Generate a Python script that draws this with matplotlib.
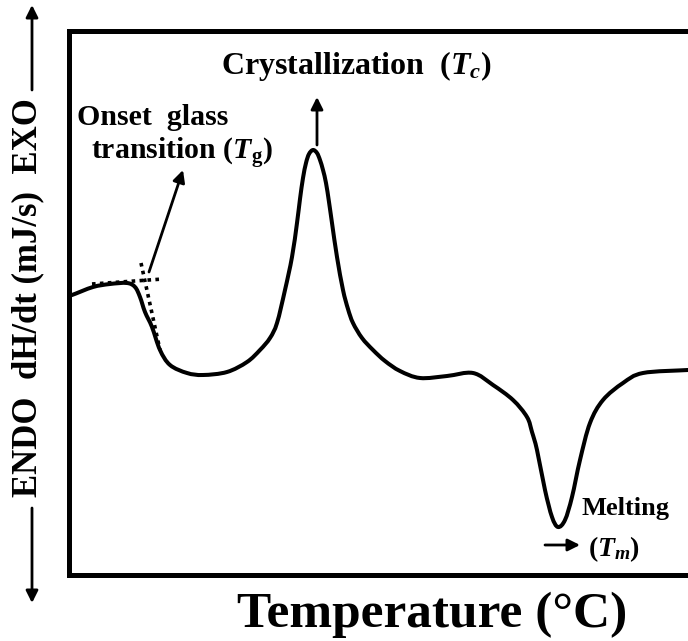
import matplotlib
matplotlib.use("Agg")
import numpy as np
import matplotlib.pyplot as plt
from matplotlib.patches import FancyArrowPatch, PathPatch
from matplotlib.path import Path

plt.rcParams["font.family"] = ["Liberation Serif", "DejaVu Serif"]
plt.rcParams["font.weight"] = "bold"
plt.rcParams["mathtext.fontset"] = "custom"
plt.rcParams["mathtext.rm"] = "Liberation Serif:bold"
plt.rcParams["mathtext.bf"] = "Liberation Serif:bold"
plt.rcParams["mathtext.it"] = "Liberation Serif:italic:bold"

# Schematic DSC trace (arbitrary units: temperature vs heat flow)
temperature = [1, 4, 25, 42, 59, 67, 72, 77, 84, 92,
               102, 119, 135, 159, 179, 192, 202, 209, 217, 224,
               229, 232, 235, 238, 241, 245, 249, 252, 255, 258,
               261, 264, 269, 275, 280, 285, 294, 305, 317, 332,
               352, 379, 405, 425, 445, 459, 464, 469, 477, 484,
               490, 497, 504, 512, 522, 535, 555, 575, 620, 632]
heat_flow = [280, 280, 288, 291, 292, 288, 278, 263, 248, 225,
             210, 202, 200, 203, 213, 225, 237, 252, 285, 318,
             352, 376, 397, 412, 421, 425, 422, 415, 405, 392,
             373, 352, 318, 285, 266, 252, 237, 225, 214, 204,
             197, 199, 202, 190, 175, 158, 143, 125, 85, 58,
             48, 55, 78, 115, 152, 175, 192, 202, 205, 206]

# Tangent construction for the glass-transition onset
baseline_T = [24, 95]
baseline_H = [291, 296]
tangent_T = [73, 92]
tangent_H = [312, 225]


def smooth_path(xs, ys):
    """Catmull-Rom curve through the given points, as cubic Bezier segments."""
    p = np.column_stack([xs, ys]).astype(float)
    p_ext = np.vstack([p[0], p, p[-1]])
    verts = [p[0]]
    codes = [Path.MOVETO]
    for i in range(1, len(p_ext) - 2):
        p0, p1, p2, p3 = p_ext[i - 1], p_ext[i], p_ext[i + 1], p_ext[i + 2]
        c1 = p1 + (p2 - p0) / 6.0
        c2 = p2 - (p3 - p1) / 6.0
        verts += [c1, c2, p2]
        codes += [Path.CURVE4] * 3
    return Path(verts, codes)


W, H = 688, 641
fig = plt.figure(figsize=(W / 100, H / 100), dpi=100)
ax = fig.add_axes([68.5 / W, 66 / H, (700 - 68.5) / W, 544.5 / H])
ax.set_xlim(0.5, 632)
ax.set_ylim(0, 544.5)
ax.set_xticks([])
ax.set_yticks([])
for s in ax.spines.values():
    s.set_linewidth(3.6)
    s.set_color("black")

ax.add_patch(PathPatch(smooth_path(temperature, heat_flow), facecolor="none",
                       edgecolor="black", lw=2.9, joinstyle="round",
                       capstyle="round"))
ax.plot(baseline_T, baseline_H, color="black", lw=2.6, linestyle=(0, (1, 1.2)))
ax.plot(tangent_T, tangent_H, color="black", lw=2.6, linestyle=(0, (1, 1.2)))

arrow_kw = dict(arrowstyle="-|>", lw=2.0, color="black", mutation_scale=18,
                shrinkA=0, shrinkB=0)
ax.annotate("", xy=(115, 405), xytext=(81, 303), arrowprops=arrow_kw)
ax.annotate("", xy=(249, 478), xytext=(249, 430), arrowprops=arrow_kw)
ax.annotate("", xy=(512, 30), xytext=(477, 30), arrowprops=arrow_kw)

ax.text(288.5, 501, r"Crystallization  ($T_c$)", fontsize=23, ha="center",
        va="baseline", fontweight="bold")
ax.text(9, 450, "Onset  glass", fontsize=21.5, ha="left", va="baseline",
        fontweight="bold")
ax.text(23, 415, r"transition ($T_\mathrm{g}$)", fontsize=21.5, ha="left",
        va="baseline", fontweight="bold")
ax.text(514, 60, "Melting", fontsize=19, ha="left", va="baseline",
        fontweight="bold")
ax.text(520, 19, r"($T_m$)", fontsize=20, ha="left", va="baseline",
        fontweight="bold")

fig.text(432 / W, (H - 627) / H, "Temperature (°C)", fontsize=37,
         ha="center", va="baseline", fontweight="bold")
fig.text(28 / W, (H - 298) / H, "ENDO  dH/dt (mJ/s)  EXO", fontsize=25,
         rotation=90, ha="center", va="center", fontweight="bold")

# Direction arrows beside the vertical label
for y0, y1 in [((H - 90) / H, (H - 5) / H), ((H - 508) / H, (H - 603) / H)]:
    fig.patches.append(FancyArrowPatch((32 / W, y0), (32 / W, y1),
                                       transform=fig.transFigure,
                                       arrowstyle="-|>", lw=2.0, color="black",
                                       mutation_scale=18, shrinkA=0, shrinkB=0))

fig.savefig("out.png", dpi=100, facecolor="white")
